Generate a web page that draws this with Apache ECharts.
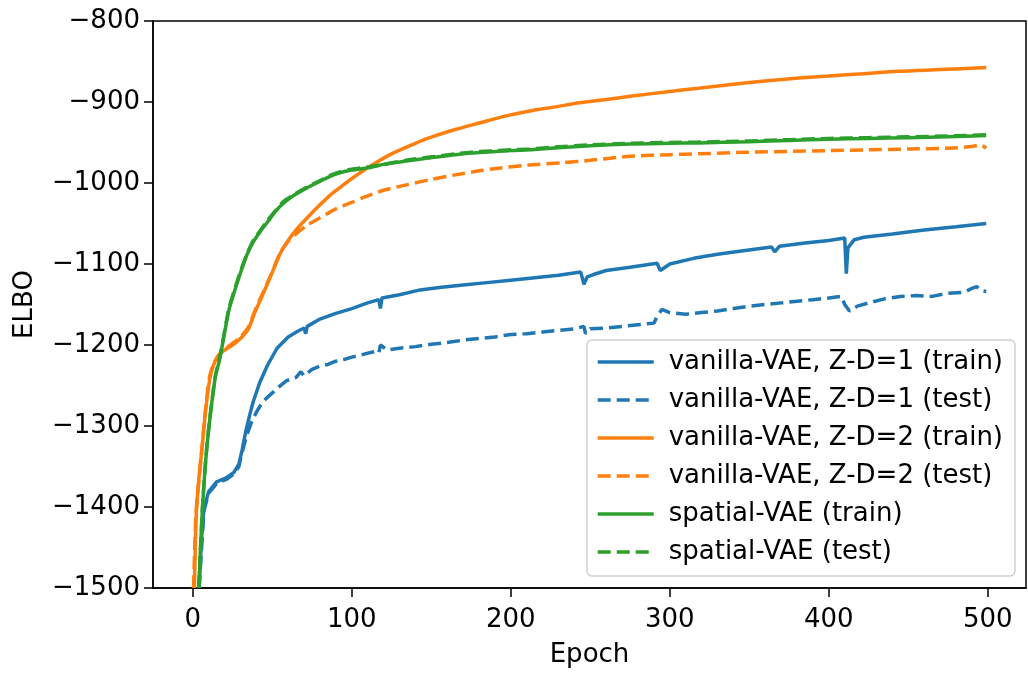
<!DOCTYPE html>
<html>
<head>
<meta charset="utf-8">
<script src="https://cdn.jsdelivr.net/npm/echarts@6/dist/echarts.min.js"></script>
<style>
  html, body { margin: 0; padding: 0; background: #fff; }
  #chart { width: 1028px; height: 673px; }
</style>
</head>
<body>
<div id="chart"></div>
<script>
// values: [epoch, ELBO]
const xTicks = [0, 100, 200, 300, 400, 500]

const vae1Train = [[4,-1500],[5.5,-1440],[7,-1402],[10,-1381],[15,-1369],[21,-1364],[26,-1357],[29,-1347],[31,-1330],[33.5,-1305],[36,-1285],[38,-1270],[42,-1247],[47,-1225],[53,-1204],[60,-1190],[66,-1183],[70,-1179],[71,-1186],[72,-1177],[80,-1168],[90,-1161],[100,-1155],[110,-1148],[117,-1144],[118,-1155],[119,-1142],[130,-1138],[143,-1132],[155,-1129],[170,-1126],[185,-1123],[200,-1120],[215,-1117],[230,-1114],[244,-1110],[246,-1125],[248,-1116],[252,-1113],[260,-1108],[275,-1104],[292,-1099],[294,-1108],[297,-1104],[300,-1100],[315,-1093],[330,-1088],[345,-1084],[364,-1079],[366,-1085],[369,-1078],[385,-1074],[400,-1071],[410,-1068],[411,-1112],[412,-1080],[416,-1070],[422,-1067],[440,-1063],[460,-1058],[480,-1054],[499,-1050]]

const vae1Test = [[4,-1500],[7,-1405],[10,-1383],[15,-1371],[21,-1366],[26,-1359],[29,-1350],[31,-1333],[34,-1311],[37,-1295],[40,-1283],[44,-1270],[49,-1261],[54,-1252],[59,-1244],[65,-1240],[68,-1233],[70,-1238],[75,-1230],[80,-1226],[85,-1224],[90,-1220],[95,-1218],[100,-1215],[105,-1213],[110,-1210],[115,-1208],[117,-1210],[118,-1200],[122,-1206],[130,-1204],[140,-1202],[150,-1199],[160,-1197],[170,-1194],[180,-1192],[190,-1190],[200,-1187],[210,-1186],[220,-1184],[230,-1182],[240,-1180],[246,-1177],[247,-1186],[250,-1180],[260,-1179],[270,-1177],[280,-1175],[290,-1173],[292,-1165],[295,-1156],[300,-1160],[310,-1162],[320,-1160],[330,-1158],[340,-1155],[350,-1152],[360,-1150],[370,-1148],[380,-1146],[390,-1144],[400,-1142],[408,-1140],[410,-1150],[413,-1158],[418,-1152],[425,-1148],[435,-1143],[445,-1140],[455,-1139],[465,-1140],[475,-1136],[485,-1135],[490,-1130],[493,-1128],[496,-1133],[499,-1134]]

const vae2Train = [[1,-1500],[2.3,-1405],[4,-1362],[6,-1324],[8,-1283],[10.7,-1242],[13,-1225],[16,-1214],[19.5,-1207],[25,-1200],[30,-1192],[35,-1180],[39,-1160],[44,-1138],[49,-1115],[55,-1087],[60,-1071],[65,-1058],[72,-1043],[80,-1027],[87,-1014],[93,-1005],[99,-996],[111,-980],[125,-964],[140,-951],[149,-944],[165,-934],[180,-926],[195,-918],[212,-911],[228,-906],[243,-901],[260,-897],[275,-893],[300,-887],[318,-883],[340,-878],[360,-874],[381,-870.5],[400,-868],[422,-865],[444,-862],[470,-860],[499,-857.5]]

const vae2Test = [[0.5,-1500],[2,-1410],[4,-1365],[6,-1322],[8,-1280],[10.5,-1240],[13,-1224],[16,-1213],[19.5,-1206],[25,-1198],[30,-1190],[35,-1178],[39,-1158],[44,-1136],[49,-1114],[55,-1086],[60,-1072],[66,-1061],[72,-1052],[80,-1043],[90,-1032],[100,-1024],[107,-1018],[120,-1009],[135,-1002],[149,-996],[165,-990],[180,-985],[191,-982],[210,-978],[233,-975],[250,-972],[275,-967],[300,-965],[318,-964],[350,-962],[375,-961],[400,-960],[425,-959],[450,-958],[475,-957],[490,-955],[495,-953],[499,-957]]

const spatialTrain = [[3.8,-1500],[6,-1405],[9,-1324],[14,-1242],[17,-1217],[20,-1185],[23,-1155],[29,-1117],[34,-1089],[38,-1073],[42,-1061],[46.7,-1049],[52,-1035],[57,-1025],[63,-1016],[71.8,-1006],[80,-998],[86,-992],[93,-987],[100,-984],[111,-981],[120,-977],[134,-973],[149,-969],[175,-963],[200,-960],[212,-959],[225,-957],[250,-954],[275,-952],[300,-951],[318,-950.5],[350,-949],[375,-947.5],[400,-946],[425,-945],[450,-944],[475,-943],[499,-941.5]]

const spatialTest = [[3.8,-1500],[6,-1404],[9,-1322],[14,-1240],[17,-1215],[20,-1183],[23,-1153],[29,-1115],[34,-1088],[38,-1071],[42,-1060],[46.7,-1047],[52,-1034],[57,-1023],[63,-1015],[71.8,-1005],[80,-997],[86,-991],[93,-986],[100,-983],[111,-980],[120,-977],[134,-972],[149,-968],[175,-962],[200,-959],[212,-958],[225,-956],[250,-953],[275,-951],[300,-950],[318,-949.5],[350,-948],[375,-946.5],[400,-945],[425,-944],[450,-943],[475,-942],[499,-940.5]]

const blue = '#1f77b4', orange = '#ff7f0e', green = '#2ca02c'
const font = 'DejaVu Sans'
const dash = [13, 6]

function line(name, data, color, dashed, smooth) {
  return {
    name: name,
    type: 'line',
    data: data,
    showSymbol: false,
    symbol: 'none',
    clip: true,
    smooth: smooth ? 0.25 : false,
    lineStyle: { color: color, width: 3.5, type: dashed ? dash : 'solid', cap: 'butt' },
    itemStyle: { color: color }
  }
}

const chart = echarts.init(document.getElementById('chart'), null, { renderer: 'canvas' })
chart.setOption({
  animation: false,
  backgroundColor: '#fff',
  grid: { left: 153, right: 2, top: 21, bottom: 83, show: true, borderColor: '#000', borderWidth: 1.5 },
  legend: {
    orient: 'vertical',
    right: 13,
    top: 340,
    itemWidth: 56,
    itemHeight: 14,
    itemGap: 8,
    padding: [7, 12, 9, 9],
    backgroundColor: '#fff',
    borderColor: '#d0d0d0',
    borderWidth: 1.5,
    borderRadius: 5,
    selectedMode: false,
    itemStyle: { opacity: 0 },
    lineStyle: { width: 3.5 },
    textStyle: { fontFamily: font, fontSize: 26, color: '#000', lineHeight: 30, padding: [0, 0, 0, 10] }
  },
  xAxis: {
    type: 'value',
    min: -25,
    max: 524,
    name: 'Epoch',
    nameLocation: 'middle',
    nameGap: 54,
    nameTextStyle: { fontFamily: font, fontSize: 26, color: '#000' },
    splitLine: { show: false },
    axisLine: { show: true, onZero: false, lineStyle: { color: '#000', width: 1.5 } },
    axisTick: { show: true, length: 9, lineStyle: { color: '#000', width: 1.5 }, customValues: xTicks },
    axisLabel: { fontFamily: font, fontSize: 26, color: '#000', margin: 19, customValues: xTicks }
  },
  yAxis: {
    type: 'value',
    min: -1500,
    max: -800,
    interval: 100,
    name: 'ELBO',
    nameLocation: 'middle',
    nameGap: 115,
    nameTextStyle: { fontFamily: font, fontSize: 26, color: '#000' },
    splitLine: { show: false },
    axisLine: { show: true, onZero: false, lineStyle: { color: '#000', width: 1.5 } },
    axisTick: { show: true, length: 9, lineStyle: { color: '#000', width: 1.5 } },
    axisLabel: {
      fontFamily: font, fontSize: 26, color: '#000', margin: 13,
      formatter: v => String(v).replace('-', '\u2212')
    }
  },
  series: [
    line('vanilla-VAE, Z-D=1 (train)', vae1Train, blue, false, false),
    line('vanilla-VAE, Z-D=1 (test)', vae1Test, blue, true, false),
    line('vanilla-VAE, Z-D=2 (train)', vae2Train, orange, false, true),
    line('vanilla-VAE, Z-D=2 (test)', vae2Test, orange, true, true),
    line('spatial-VAE (train)', spatialTrain, green, false, true),
    line('spatial-VAE (test)', spatialTest, green, true, true)
  ]
})
</script>
</body>
</html>
